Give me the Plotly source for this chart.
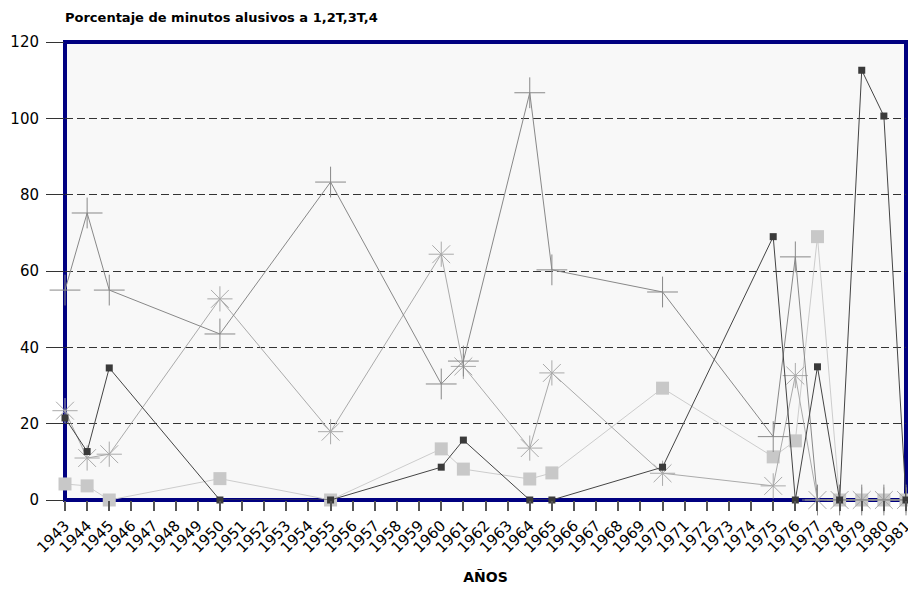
import plotly.graph_objects as go

years = [1943, 1944, 1945, 1950, 1955, 1960, 1961, 1964, 1965, 1970, 1975, 1976, 1977, 1978, 1979, 1980, 1981]
serie_1 = [21.5, 12.7, 34.6, 0, 0, 8.6, 15.7, 0, 0, 8.6, 69, 0, 34.9, 0, 112.6, 100.6, 0]
serie_2T = [55, 75.2, 55, 43.5, 83.3, 30.4, 36.4, 106.7, 60.3, 54.5, 16.6, 63.7, 0, 0, 0, 0, 0]
serie_3T = [23.4, 11, 12, 52.7, 17.9, 64.4, 35, 13.6, 33.3, 7, 3.7, 32.6, 0, 0, 0, 0, 0]
serie_4 = [4.2, 3.7, 0, 5.6, 0, 13.4, 8.1, 5.5, 7.1, 29.3, 11.3, 15.5, 69, 0, 0, 0, 0]
tick_years = list(range(1943, 1982))

FONT = "DejaVu Sans, Verdana, sans-serif"

fig = go.Figure()
fig.add_trace(go.Scatter(x=years, y=serie_4, mode="lines+markers", name="4", cliponaxis=False,
                         line=dict(color="#cccccc", width=1),
                         marker=dict(symbol="square", size=13, color="#c8c8c8")))
fig.add_trace(go.Scatter(x=years, y=serie_3T, mode="lines+markers", name="3T", cliponaxis=False,
                         line=dict(color="#aaaaaa", width=1),
                         marker=dict(symbol="asterisk-open", size=21, color="#aaaaaa", line=dict(width=1, color="#aaaaaa"))))
fig.add_trace(go.Scatter(x=years, y=serie_2T, mode="lines+markers", name="2T", cliponaxis=False,
                         line=dict(color="#888888", width=1),
                         marker=dict(symbol="cross-thin-open", size=22, color="#888888", line=dict(width=1, color="#888888"))))
fig.add_trace(go.Scatter(x=years, y=serie_1, mode="lines+markers", name="1", cliponaxis=False,
                         line=dict(color="#444444", width=1),
                         marker=dict(symbol="square", size=7, color="#3a3a3a")))

fig.add_shape(type="rect", xref="paper", yref="paper", x0=0, x1=1, y0=0, y1=1,
              line=dict(color="#000080", width=4), layer="below")

# the page body has an 8px margin, so the figure is sized to fit inside the visible window
fig.update_layout(
    width=900, height=577,
    margin=dict(l=57, r=2, t=34, b=85),
    paper_bgcolor="white", plot_bgcolor="#f8f8f8",
    showlegend=False,
    font=dict(family=FONT, color="black"),
    title=dict(text="<b>Porcentaje de minutos alusivos a 1,2T,3T,4</b>", x=0, xref="paper",
               xanchor="left", y=0.992, yanchor="top", font=dict(size=13, family=FONT)),
)
fig.update_xaxes(
    range=[1943, 1981], tickmode="array", tickvals=tick_years, ticktext=[str(y) for y in tick_years],
    tickangle=-45, tickfont=dict(size=15), ticks="outside", ticklen=10, tickwidth=2, tickcolor="#555",
    ticklabeloverflow="allow",
    showgrid=False, zeroline=False, showline=False, automargin=False,
    title=dict(text="<b>AÑOS</b>", font=dict(size=14), standoff=16),
)
fig.update_yaxes(
    range=[0, 120], tickvals=[0, 20, 40, 60, 80, 100, 120], tickfont=dict(size=15),
    ticks="outside", ticklen=18, tickwidth=1, tickcolor="#333", ticklabelstandoff=4,
    showgrid=True, gridcolor="#333", griddash="8px,4px", gridwidth=1, zeroline=False,
    showline=False, automargin=False,
)
fig.write_html("out.html")
